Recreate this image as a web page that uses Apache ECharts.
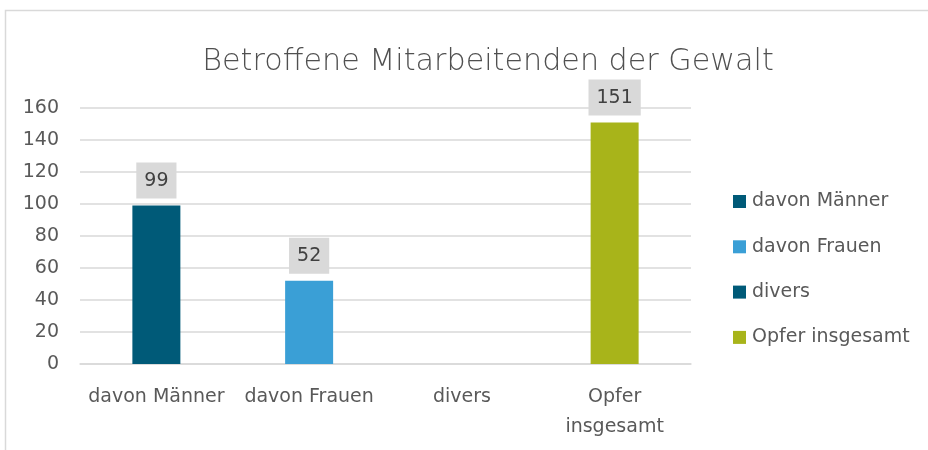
<!DOCTYPE html>
<html><head><meta charset="utf-8">
<script src="https://cdn.jsdelivr.net/npm/echarts@6/dist/echarts.min.js"></script>
<style>html,body{margin:0;padding:0;background:#fff}#c{width:928px;height:450px}</style>
</head><body><div id="c"></div>
<script>
const categories = ['davon Männer', 'davon Frauen', 'divers', 'Opfer\ninsgesamt'];
const seriesNames = ['davon Männer', 'davon Frauen', 'divers', 'Opfer insgesamt'];
const values = [99, 52, null, 151];
const colors = ['#005A78', '#3A9FD6', '#005A78', '#A8B41A'];
const yTicks = [0, 20, 40, 60, 80, 100, 120, 140, 160];

const FONT = '"DejaVu Sans", sans-serif';
const TXT = '#595959';
const chart = echarts.init(document.getElementById('c'));
const series = seriesNames.map((name, i) => ({
  name: name,
  type: 'bar',
  stack: 'all',
  barWidth: 48,
  itemStyle: { color: colors[i] },
  data: categories.map((c, j) => (j === i ? values[i] : null)),
  label: {
    show: true, position: 'top', distance: 7,
    color: '#404040', fontSize: 19, fontFamily: FONT,
    backgroundColor: '#D9D9D9', padding: [9, 8, 8, 8]
  }
}));
chart.setOption({
  animation: false,
  title: {
    text: 'Betroffene Mitarbeitenden der Gewalt', left: 483, textAlign: 'center', top: 42,
    textStyle: { color: '#505050', fontSize: 30.2, fontWeight: 200, fontFamily: FONT }
  },
  legend: {
    orient: 'vertical', left: 733, top: 192, itemWidth: 13, itemHeight: 13, itemGap: 26.3,
    padding: 0, icon: 'rect',
    textStyle: { color: TXT, fontSize: 19, fontFamily: FONT, padding: [0, 0, 0, 1] },
    data: seriesNames
  },
  grid: { left: 80, right: 237, top: 108, bottom: 86, containLabel: false },
  xAxis: {
    type: 'category', data: categories,
    axisLine: { lineStyle: { color: '#D9D9D9', width: 1.5 } },
    axisTick: { show: false },
    axisLabel: { color: TXT, fontSize: 19, fontFamily: FONT, margin: 18, lineHeight: 30, interval: 0 }
  },
  yAxis: {
    type: 'value', min: yTicks[0], max: yTicks[yTicks.length - 1], interval: 20,
    axisLine: { show: false }, axisTick: { show: false },
    splitLine: { lineStyle: { color: '#D9D9D9', width: 1.5 } },
    axisLabel: { color: TXT, fontSize: 19, fontFamily: FONT, margin: 21 }
  },
  graphic: [{
    type: 'rect', shape: { x: 5.5, y: 10.5, width: 940, height: 460 },
    style: { fill: null, stroke: '#D9D9D9', lineWidth: 1.5 }, silent: true
  }],
  series: series
});
</script></body></html>
